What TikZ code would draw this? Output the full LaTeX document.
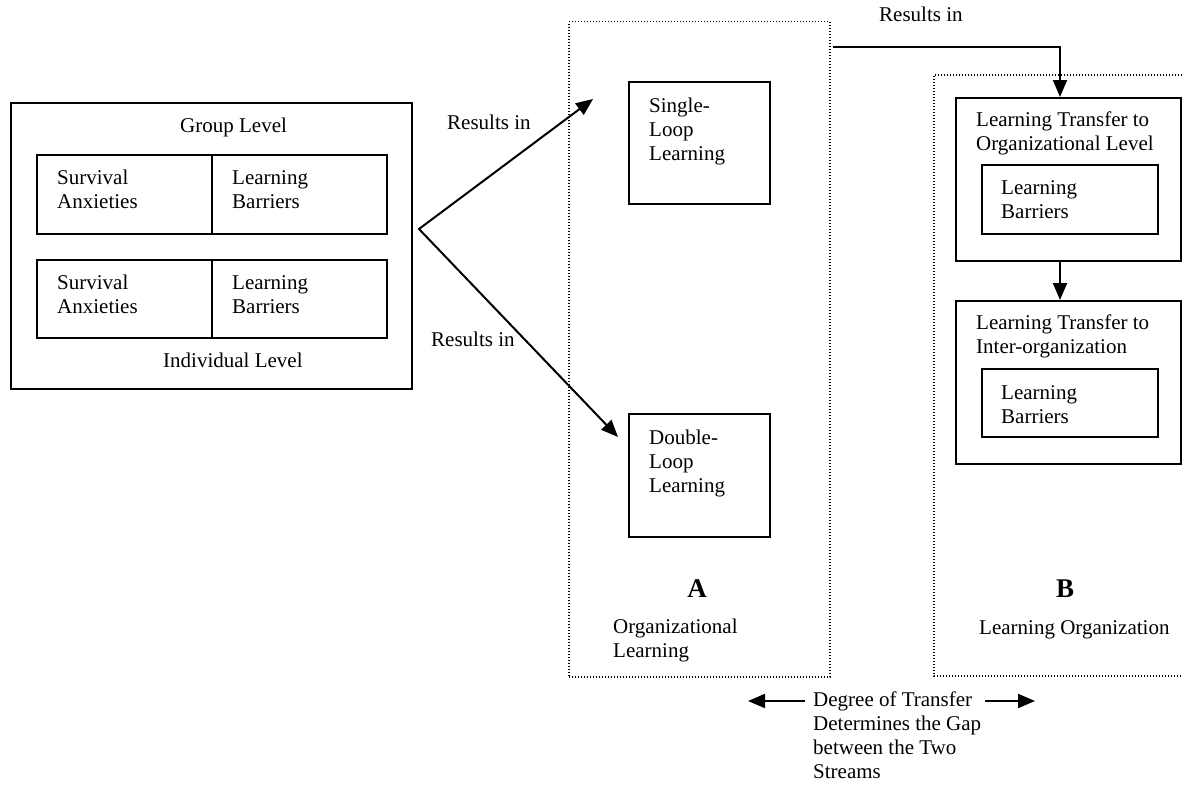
\documentclass[tikz,border=0pt]{standalone}
\usepackage{fontspec}
\setmainfont{Liberation Serif}
\usetikzlibrary{arrows.meta}
\begin{document}
\begin{tikzpicture}[x=1pt,y=-1pt,
  box/.style={draw,line width=1.8pt,inner sep=0,anchor=north west},
  dotbox/.style={draw,line width=1.5pt,dash pattern=on 1pt off 2pt,inner sep=0,anchor=north west},
  dotline/.style={line width=1.5pt,dash pattern=on 1pt off 2pt},
  txt/.style={font=\fontsize{21}{24}\selectfont,align=left,inner sep=0,anchor=base west},
  big/.style={font=\bfseries\fontsize{27}{28}\selectfont,inner sep=0,anchor=base},
  arr/.style={line width=2pt,-{Triangle[length=17pt,width=14pt]}}]
\useasboundingbox (0,0) rectangle (1182,784);

% left block
\node[box,minimum width=401,minimum height=286] (outer) at (10,102) {};
\node[box,minimum width=175,minimum height=79] (ga) at (36,154) {};
\node[box,minimum width=175,minimum height=79] (gb) at (211,154) {};
\node[box,minimum width=175,minimum height=78] (ia) at (36,259) {};
\node[box,minimum width=175,minimum height=78] (ib) at (211,259) {};
\node[txt] (tgl) at (180,132) {Group Level};
\node[txt] (tga) at (57,208) {Survival\\Anxieties};
\node[txt] (tgb) at (232,208) {Learning\\Barriers};
\node[txt] (tia) at (57,313) {Survival\\Anxieties};
\node[txt] (tib) at (232,313) {Learning\\Barriers};
\node[txt] (til) at (163,367) {Individual Level};

% stream A
\node[dotbox,minimum width=261,minimum height=655] (boxA) at (568,21) {};
\node[box,minimum width=141,minimum height=122] (single) at (628,81) {};
\node[box,minimum width=141,minimum height=123] (double) at (628,413) {};
\node[txt] (tsingle) at (649,160) {Single-\\Loop\\Learning};
\node[txt] (tdouble) at (649,492) {Double-\\Loop\\Learning};
\node[big] (labA) at (697,597) {A};
\node[txt] (tol) at (613,657) {Organizational\\Learning};

% stream B
\draw[dotline] (1182,75) -- (934,75) coordinate (boxBnw) -- (934,676) -- (1182,676);
\node[box,minimum width=225,minimum height=163] (lt1) at (955,97) {};
\node[box,minimum width=176,minimum height=69] (lb1) at (981,164) {};
\node[box,minimum width=225,minimum height=163] (lt2) at (955,300) {};
\node[box,minimum width=176,minimum height=68] (lb2) at (981,368) {};
\node[txt] (tlt1) at (976,150) {Learning Transfer to\\Organizational Level};
\node[txt] (tlb1) at (1001,218) {Learning\\Barriers};
\node[txt] (tlt2) at (976,353) {Learning Transfer to\\Inter-organization};
\node[txt] (tlb2) at (1001,423) {Learning\\Barriers};
\node[big] (labB) at (1065,597) {B};
\node[txt] (tlo) at (979,634) {Learning Organization};

% connectors
\coordinate (apex) at (419,229);
\coordinate (tipS) at (593,99);
\coordinate (tipD) at (618,437);
\draw[line width=2pt,{Triangle[length=17pt,width=14pt]}-{Triangle[length=17pt,width=14pt]}] (tipS) -- (apex) -- (tipD);
\node[txt] (r1) at (447,129) {Results in};
\node[txt] (r2) at (431,346) {Results in};

\coordinate (tx) at (1060,0);
\coordinate (rstart) at (833,47);
\draw[arr] (rstart) -| (lt1.north -| tx);
\node[txt] (r3) at (879,22) {Results in};
\draw[arr] (lt1.south -| tx) -- (lt2.north -| tx);

% degree of transfer
\node[txt] (deg) at (813,778) {Degree of Transfer\\Determines the Gap\\between the Two\\Streams};
\coordinate (la) at (805,701);
\coordinate (lt) at (748,701);
\coordinate (ra) at (985,701);
\coordinate (rt) at (1035,701);
\draw[arr] (la) -- (lt);
\draw[arr] (ra) -- (rt);
\end{tikzpicture}
\end{document}
